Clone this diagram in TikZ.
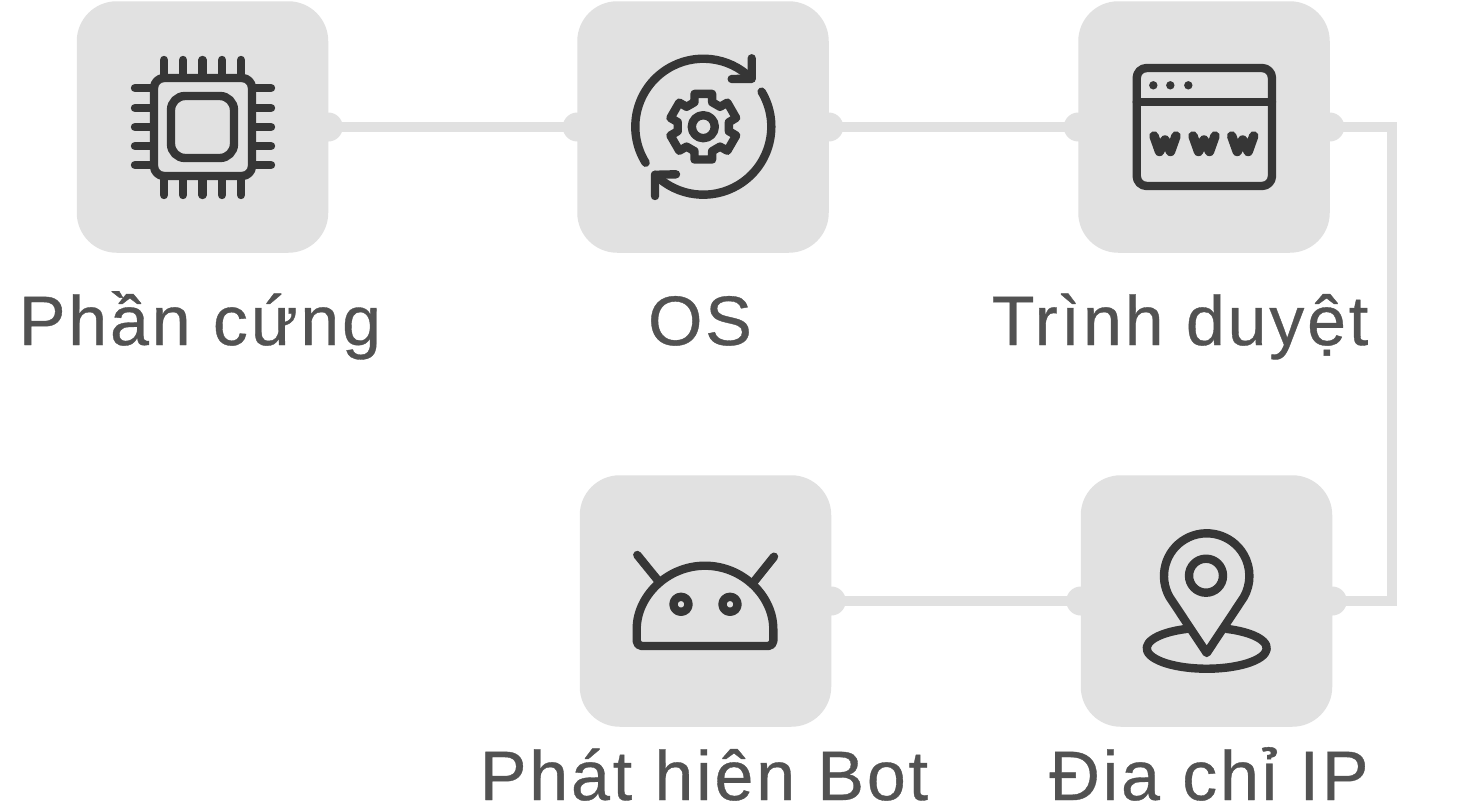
\documentclass[tikz,border=0pt]{standalone}
\usepackage{fontspec}
\setmainfont[LetterSpace=4,FakeBold=0.5]{Liberation Sans}
\definecolor{boxgray}{HTML}{E1E1E1}
\definecolor{icondark}{HTML}{363636}
\definecolor{labelgray}{HTML}{525252}
\tikzset{
  tile/.style={fill=boxgray,draw=none,rounded corners=40pt,minimum size=251.5pt,inner sep=0pt,outer sep=0pt},
  nub/.style={circle,fill=boxgray,draw=none,minimum size=29pt,inner sep=0pt,outer sep=0pt},
  link/.style={draw=boxgray,line width=10pt,miter limit=10},
  ico/.style={draw=icondark,line width=8.4pt,line cap=round,line join=round},
  lbl/.style={anchor=base,text=labelgray,font=\fontsize{70}{70}\selectfont,inner sep=0pt,outer sep=0pt}
}
\begin{document}
\begin{tikzpicture}[x=1pt,y=1pt,yscale=-1]
\path[use as bounding box,fill=white] (0,0) rectangle (1469,803);
% tiles
\node[tile] (hw) at (202.5,127) {};
\node[tile] (os) at (703,127) {};
\node[tile] (br) at (1204,127) {};
\node[tile] (bot) at (705.5,601) {};
\node[tile] (ip) at (1206.5,601) {};
% nubs
\node[nub] (n1) at (hw.east) {};
\node[nub] (n2) at (os.west) {};
\node[nub] (n3) at (os.east) {};
\node[nub] (n4) at (br.west) {};
\node[nub] (n5) at (br.east) {};
\node[nub] (n6) at (ip.east) {};
\node[nub] (n7) at (ip.west) {};
\node[nub] (n8) at (bot.east) {};
% connectors
\coordinate (turn) at (1391.5,364);
\draw[link] (hw.east) -- (os.west);
\draw[link] (os.east) -- (br.west);
\draw[link] (br.east) -| (turn) |- (ip.east);
\draw[link] (ip.west) -- (bot.east);
% chip icon
\draw[ico,rounded corners=10pt] (154,78) rectangle (252,176);
\draw[ico,rounded corners=14pt] (171,96) rectangle (234,158);
\foreach \x in {164,183,202.5,222,241}{
  \draw[ico] (\x,60) -- (\x,76);
  \draw[ico] (\x,178) -- (\x,195);
}
\foreach \y in {88,108,127,146,165}{
  \draw[ico] (135,\y) -- (152,\y);
  \draw[ico] (254,\y) -- (271,\y);
}
% OS icon
\draw[ico] (703.3,126.7) ++(-212:68) arc[start angle=-212,end angle=-45,radius=68];
\draw[ico] (703.3,126.7) ++(-31:68) arc[start angle=-31,end angle=135,radius=68];
\draw[ico] (751.7,58.3) -- (751.7,78.8) -- (731.7,79);
\draw[ico] (655,196) -- (655,174.8) -- (676,174.3);
\draw[ico] (703.3,126.7) circle[radius=11.5];
\path \foreach \a in {-90,-30,30,90,150,210}{
    (703.3,126.7) ++({\a-15}:34) coordinate (g\a a)
    (703.3,126.7) ++({\a+15}:34) coordinate (g\a b)
    (703.3,126.7) ++({\a+20}:26) coordinate (g\a c)
    (703.3,126.7) ++({\a+40}:26) coordinate (g\a d)
  };
\draw[ico] (g-90a) -- (g-90b) -- (g-90c) -- (g-90d)
  -- (g-30a) -- (g-30b) -- (g-30c) -- (g-30d)
  -- (g30a) -- (g30b) -- (g30c) -- (g30d)
  -- (g90a) -- (g90b) -- (g90c) -- (g90d)
  -- (g150a) -- (g150b) -- (g150c) -- (g150d)
  -- (g210a) -- (g210b) -- (g210c) -- (g210d) -- cycle;
% browser icon
\draw[ico,rounded corners=10pt] (1136.7,68) rectangle (1272,186);
\draw[ico] (1136.7,101.7) -- (1272,101.7);
\foreach \x in {1153.3,1170.3,1188.3}{
  \fill[icondark] (\x,85.3) circle[radius=4.2];
}
\foreach \x in {1165,1204,1242.7}{
  \draw[ico,line width=9.5pt] (\x-11,136) -- (\x-5.5,151.5) -- (\x,140) -- (\x+5.5,151.5) -- (\x+11,136);
}
% robot icon
\draw[ico,rounded corners=5pt] (636.7,634) arc[start angle=180,end angle=360,radius=68.3] -- (773.3,646) -- (636.7,646) -- cycle;
\draw[ico] (637.3,555) -- (659,581.7);
\draw[ico] (774,556.7) -- (754,581.7);
\draw[ico] (681,604.3) circle[radius=7.5];
\draw[ico] (730,604.3) circle[radius=7.5];
% pin icon
\draw[ico] (1206.7,576) ++(150:42.7) arc[start angle=150,end angle=390,radius=42.7] -- (1206.7,653) -- cycle;
\draw[ico] (1206,575.7) circle[radius=17];
\draw[ico] (1186.7,628.9) arc[start angle=250.5,end angle=-70.5,x radius=60,y radius=20.5];
% labels
\node[lbl] (t1) at (200,345) {Phần cứng};
\node[lbl] (t2) at (700,345) {OS};
\node[lbl] (t3) at (1180,345) {Trình duyệt};
\node[lbl] (t4) at (704,800) {Phát hiện Bot};
\node[lbl] (t5) at (1209,800) {Địa chỉ IP};
\end{tikzpicture}
\end{document}
